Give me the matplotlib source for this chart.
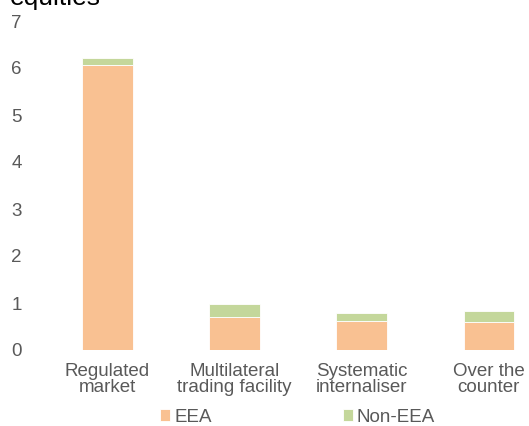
import matplotlib.pyplot as plt
import numpy as np

plt.rcParams['font.family'] = ['Liberation Sans', 'DejaVu Sans']

categories = ['Regulated\nmarket', 'Multilateral\ntrading facility',
              'Systematic\ninternaliser', 'Over the\ncounter']
eea = [6.06, 0.70, 0.62, 0.60]
non_eea = [0.16, 0.28, 0.17, 0.24]

eea_col = '#F9C192'
non_eea_col = '#C4D79B'
grey = '#595959'

fig = plt.figure(figsize=(5.29, 4.26), dpi=100)
ax = fig.add_axes([44 / 529, 1 - 350 / 426, (552.5 - 44) / 529, (350 - 21) / 426])

x = np.arange(len(categories))
ax.bar(x, eea, width=0.4, color=eea_col, label='EEA', edgecolor='white', linewidth=0.6)
ax.bar(x, non_eea, width=0.4, bottom=eea, color=non_eea_col, label='Non-EEA',
       edgecolor='white', linewidth=0.6)

ax.set_xlim(-0.5, len(categories) - 0.5)
ax.set_ylim(0, 7)
ax.set_yticks(range(0, 8))
ax.set_xticks(x)
ax.set_xticklabels(categories, linespacing=0.98)
ax.tick_params(axis='both', length=0, labelsize=13.5, colors=grey)
ax.tick_params(axis='y', pad=16)
ax.tick_params(axis='x', pad=9)
for sp in ax.spines.values():
  sp.set_visible(False)

fig.text(10 / 529, 1 - 5 / 426, 'equities', fontsize=19, va='baseline', ha='left')

fig.legend(loc='center', bbox_to_anchor=(297.5 / 529, 1 - 417 / 426), ncol=2,
           frameon=False, fontsize=13.5, handlelength=0.55, handleheight=0.55,
           handletextpad=0.2, columnspacing=7.0, labelcolor=grey,
           borderpad=0, borderaxespad=0)

fig.savefig('out.png', dpi=100)
